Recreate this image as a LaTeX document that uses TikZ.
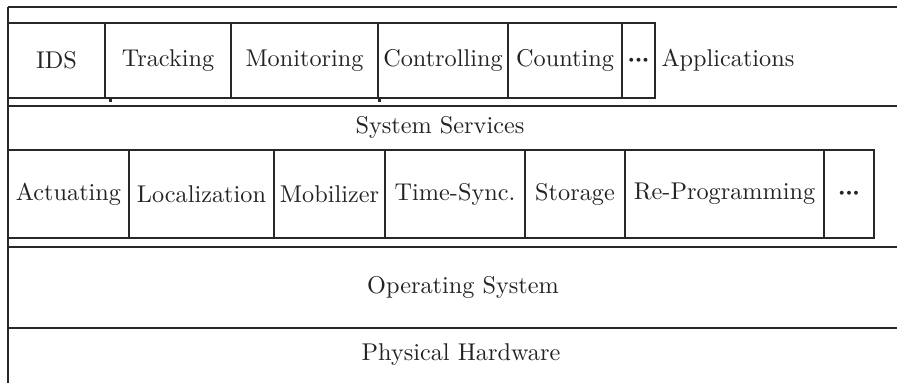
\documentclass[tikz,border=0pt]{standalone}
\definecolor{lc}{RGB}{40,40,40}
\definecolor{tc}{RGB}{35,35,35}
\newcommand{\mydots}{{\boldmath${\cdot}\mkern-0.5mu{\cdot}\mkern-0.5mu{\cdot}$}}
\begin{document}
\begin{tikzpicture}[x=0.4pt,y=-0.4pt,
  every node/.style={font=\fontsize{9.7}{12}\selectfont, text=tc},
  box/.style={draw=lc, line width=0.8pt, inner sep=0pt, rectangle},
  rowa/.style={box, minimum height=75*0.4pt},
  rowb/.style={box, minimum height=88*0.4pt},
  rule/.style={draw=lc, line width=0.8pt}]
\useasboundingbox (0,0) rectangle (897,383);
% frame lines
\coordinate (t0) at (8,7);    \coordinate (t1) at (897,7);
\coordinate (s0) at (8,105.5); \coordinate (s1) at (897,105.5);
\coordinate (o0) at (8,246.5); \coordinate (o1) at (897,246.5);
\coordinate (h0) at (8,327.5); \coordinate (h1) at (897,327.5);
\coordinate (b0) at (8,383);
\draw[rule] (t0) -- (t1);
\draw[rule] (s0) -- (s1);
\draw[rule] (o0) -- (o1);
\draw[rule] (h0) -- (h1);
\draw[rule] (t0) -- (b0);
% applications row
\node[rowa, minimum width=97*0.4pt]  (ids)  at (56.5,60.5)  {IDS};
\node[rowa, minimum width=126*0.4pt] (trk)  at (168,60.5)   {Tracking};
\node[rowa, minimum width=147*0.4pt] (mon)  at (304.5,60.5) {Monitoring};
\node[rowa, minimum width=130*0.4pt] (ctl)  at (443,60.5)   {Controlling};
\node[rowa, minimum width=114*0.4pt] (cnt)  at (565,60.5)   {Counting};
\node[rowa, minimum width=33*0.4pt]  (adot) at (638.5,60.5) {\mydots};
\node[anchor=west, inner sep=0pt] (app) at (661,60) {Applications};
% small marks under the row
\fill[lc] (108.5,99) rectangle (111.5,102);
\fill[lc] (378,99) rectangle (381,102);
% system services
\node (sys) at (440,127) {System Services};
\node[rowb, minimum width=121*0.4pt] (act) at (68.5,194)  {Actuating};
\node[rowb, minimum width=145*0.4pt] (loc) at (201.5,194) {Localization};
\node[rowb, minimum width=111*0.4pt] (mob) at (329.5,194) {Mobilizer};
\node[rowb, minimum width=140*0.4pt] (tsy) at (455,194)   {Time-Sync.};
\node[rowb, minimum width=100*0.4pt] (sto) at (575,194)   {Storage};
\node[rowb, minimum width=199*0.4pt] (rep) at (724.5,194) {Re-Programming};
\node[rowb, minimum width=50*0.4pt]  (sdot) at (849,194)  {\mydots};
% lower layers
\node (os) at (463,287) {Operating System};
\node (hw) at (461,355) {Physical Hardware};
\end{tikzpicture}
\end{document}
